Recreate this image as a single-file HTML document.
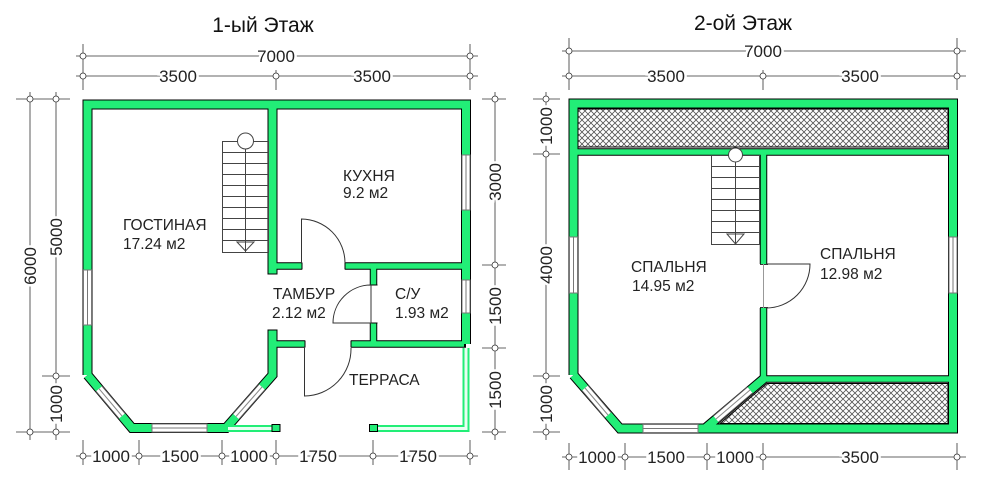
<!DOCTYPE html>
<html><head><meta charset="utf-8"><style>
html,body{margin:0;padding:0;background:#fff;}
svg{display:block;font-family:"Liberation Sans",Arial,sans-serif;}
</style></head><body>
<svg width="1000" height="488" viewBox="0 0 1000 488" xmlns="http://www.w3.org/2000/svg">
<defs>
<pattern id="hx" width="6" height="6" patternUnits="userSpaceOnUse">
<rect width="6" height="6" fill="#fff"/>
<path d="M0 0L6 6M6 0L0 6" stroke="#555" stroke-width="0.8"/>
</pattern>
</defs>
<g fill="#111" font-size="21" text-anchor="middle">
<text x="263" y="32">1-ый Этаж</text>
<text x="743" y="30">2-ой Этаж</text>
</g>

<!-- ===== FLOOR 1 WALLS ===== -->
<g fill="none" stroke-linejoin="miter">
<path d="M87.5 375 L87.5 104.5 L466 104.5 L466 344 M272.5 104.5 L272.5 375 L226 428 L132 428 L87.5 375" stroke="#000" stroke-width="10"/>
<path d="M272.5 266 L466 266 M272.5 344 L466 344 M373.5 266 L373.5 344" stroke="#000" stroke-width="7.5"/>
<path d="M87.5 375 L87.5 104.5 L466 104.5 L466 344 M272.5 104.5 L272.5 375 L226 428 L132 428 L87.5 375" stroke="#22ee77" stroke-width="8"/>
<path d="M274 266 L464 266 M274 344 L464 344 M373.5 268 L373.5 342" stroke="#22ee77" stroke-width="5.5"/>
</g>
<!-- openings floor1 -->
<g fill="#fff" stroke="none">
<rect x="267" y="274" width="11" height="56"/>
<rect x="302" y="261" width="43" height="10"/>
<rect x="305" y="339" width="46" height="10"/>
<rect x="369" y="285" width="10" height="38"/>
</g>
<g stroke="#000" stroke-width="1" fill="none">
<path d="M267.5 274 H277.5 M267.5 330 H277.5"/>
<path d="M302 262.5 V269.5 M345 262.5 V269.5 M305 340.5 V347.5 M351 340.5 V347.5 M369.5 285 H377.5 M369.5 323 H377.5"/>
</g>
<!-- windows floor1 -->
<g stroke="#777" stroke-width="1" fill="#fff">
<rect x="83.5" y="270" width="8" height="55"/>
<line x1="87.5" y1="270" x2="87.5" y2="325"/>
<rect x="462" y="155" width="8" height="55"/>
<line x1="466" y1="155" x2="466" y2="210"/>
<rect x="462" y="280" width="8" height="33"/>
<line x1="466" y1="280" x2="466" y2="313"/>
<rect x="152" y="424" width="55" height="8"/>
<line x1="152" y1="428" x2="207" y2="428"/>
</g>
<g fill="none">
<line x1="99" y1="388.7" x2="122" y2="416" stroke="#555" stroke-width="9"/>
<line x1="99" y1="388.7" x2="122" y2="416" stroke="#fff" stroke-width="7"/>
<line x1="99" y1="388.7" x2="122" y2="416" stroke="#888" stroke-width="1"/>
<line x1="236" y1="416.5" x2="262" y2="387" stroke="#555" stroke-width="9"/>
<line x1="236" y1="416.5" x2="262" y2="387" stroke="#fff" stroke-width="7"/>
<line x1="236" y1="416.5" x2="262" y2="387" stroke="#888" stroke-width="1"/>
</g>
<!-- terrace rails -->
<g fill="none">
<path d="M228 428.5 H272 M378 428.5 H466 V348" stroke="#22ee77" stroke-width="7"/>
<path d="M228 428.5 H272 M378 428.5 H466 V348" stroke="#e8fff2" stroke-width="3"/>
<rect x="272" y="424.5" width="8" height="7" fill="#22ee77" stroke="#000" stroke-width="1"/>
<rect x="369.5" y="424.5" width="8" height="7" fill="#22ee77" stroke="#000" stroke-width="1"/>
</g>
<!-- doors floor1 -->
<g stroke="#333" stroke-width="1" fill="none">
<path d="M301.5 263 V219 A44 44 0 0 1 345 263"/>
<path d="M371 285 V323 H333 A38 38 0 0 1 371 285"/>
<path d="M304.5 348 V396 A47 47 0 0 0 351 348"/>
</g>
<!-- stair floor1 -->
<g stroke="#444" stroke-width="1" fill="none">
<rect x="222.5" y="141.5" width="46" height="111"/>
<path d="M222.5 152.5H268.5M222.5 163.5H268.5M222.5 174.5H268.5M222.5 185.5H268.5M222.5 196.5H268.5M222.5 207.5H268.5M222.5 218.5H268.5M222.5 229.5H268.5M222.5 240.5H268.5"/>
<line x1="245.5" y1="141" x2="245.5" y2="252"/>
<circle cx="245.5" cy="141" r="8" fill="#fff"/>
<path d="M237 242 L245.5 251 L254 242 Z"/>
</g>

<!-- labels floor1 -->
<g fill="#222" font-size="15.5">
<text x="123" y="230">ГОСТИНАЯ</text>
<text x="123" y="249">17.24 м2</text>
<text x="343" y="181">КУХНЯ</text>
<text x="343" y="198">9.2 м2</text>
<text x="273" y="299">ТАМБУР</text>
<text x="272" y="318">2.12 м2</text>
<text x="395" y="299">С/У</text>
<text x="395" y="318">1.93 м2</text>
<text x="349" y="385">ТЕРРАСА</text>
</g>

<!-- ===== FLOOR 2 ===== -->
<rect x="578" y="109" width="370" height="38" fill="url(#hx)" stroke="#000" stroke-width="1"/>
<path d="M767 383.5 H948 V423.5 H720 Z" fill="url(#hx)" stroke="#000" stroke-width="1"/>
<g fill="none">
<path d="M573.5 375 L573.5 103.5 L953 103.5 L953 428.5 L705 428.5 L620 428.5 L573.5 375 M705 428.5 L763.5 379" stroke="#000" stroke-width="10"/>
<path d="M573.5 152 L953 152 M763.5 152 L763.5 379 L953 379" stroke="#000" stroke-width="7.5"/>
<path d="M573.5 375 L573.5 103.5 L953 103.5 L953 428.5 L705 428.5 L620 428.5 L573.5 375 M705 428.5 L763.5 379" stroke="#22ee77" stroke-width="8"/>
<path d="M575 152 L951 152 M763.5 154 L763.5 379 L951 379" stroke="#22ee77" stroke-width="5.5"/>
</g>
<!-- door floor2 -->
<rect x="759" y="264" width="10" height="44" fill="#fff"/>
<g stroke="#333" stroke-width="1" fill="none">
<path d="M760 264.5H768M760 307.5H768"/>
<path d="M766 264 H810 A44 44 0 0 1 766 308"/>
<line x1="763.5" y1="264" x2="763.5" y2="308" stroke="#999"/>
</g>
<!-- windows floor2 -->
<g stroke="#777" stroke-width="1" fill="#fff">
<rect x="569.5" y="237" width="8" height="56"/>
<line x1="573.5" y1="237" x2="573.5" y2="293"/>
<rect x="949" y="237" width="8" height="56"/>
<line x1="953" y1="237" x2="953" y2="293"/>
<rect x="643" y="424.5" width="55" height="8"/>
<line x1="643" y1="428.5" x2="698" y2="428.5"/>
</g>
<g fill="none">
<line x1="585" y1="388" x2="608" y2="415" stroke="#555" stroke-width="9"/>
<line x1="585" y1="388" x2="608" y2="415" stroke="#fff" stroke-width="7"/>
<line x1="585" y1="388" x2="608" y2="415" stroke="#888" stroke-width="1"/>
<line x1="716" y1="419" x2="750" y2="390" stroke="#555" stroke-width="9"/>
<line x1="716" y1="419" x2="750" y2="390" stroke="#fff" stroke-width="7"/>
<line x1="716" y1="419" x2="750" y2="390" stroke="#888" stroke-width="1"/>
</g>
<!-- stair floor2 -->
<g stroke="#444" stroke-width="1" fill="none">
<rect x="711.5" y="155.5" width="48" height="89" fill="#fff"/>
<path d="M711.5 166.5H759.5M711.5 177.5H759.5M711.5 188.5H759.5M711.5 199.5H759.5M711.5 210.5H759.5M711.5 221.5H759.5M711.5 232.5H759.5"/>
<line x1="735.5" y1="155" x2="735.5" y2="244"/>
<circle cx="735.5" cy="155" r="7" fill="#fff"/>
<path d="M727 234 L735.5 244 L744 234 Z"/>
</g>
<g fill="#222" font-size="15.5">
<text x="631" y="272">СПАЛЬНЯ</text>
<text x="632" y="291">14.95 м2</text>
<text x="820" y="259">СПАЛЬНЯ</text>
<text x="820" y="279">12.98 м2</text>
</g>

<!-- ===== DIMENSIONS ===== -->
<g stroke="#333" stroke-width="0.8" fill="none">
<path d="M76 56H478 M76 76H478 M83 44V90 M470 44V90 M276 70V90"/>
<path d="M76 456H478 M83 440V465 M139 440V465 M222 440V465 M276 440V465 M373 440V465 M470 440V465"/>
<path d="M30 92V440 M56 92V440 M16 99H70 M16 432H70 M42 376H70"/>
<path d="M495 92V440 M482 99H506 M482 265H506 M482 348H506 M482 432H506"/>
<path d="M562 51H966 M562 76H966 M569 38V90 M957 38V90 M763 70V90"/>
<path d="M562 457H966 M569 443V470 M625 443V470 M707 443V470 M763 443V470 M957 443V470"/>
<path d="M546 92V440 M533 99H560 M533 154H560 M533 376H560 M533 432H560"/>
</g>
<g stroke="#333" stroke-width="0.8" fill="#fff">
<circle cx="83" cy="56" r="3"/><circle cx="470" cy="56" r="3"/>
<circle cx="83" cy="76" r="3"/><circle cx="276" cy="76" r="3"/><circle cx="470" cy="76" r="3"/>
<circle cx="83" cy="456" r="3"/><circle cx="139" cy="456" r="3"/><circle cx="222" cy="456" r="3"/><circle cx="276" cy="456" r="3"/><circle cx="373" cy="456" r="3"/><circle cx="470" cy="456" r="3"/>
<circle cx="30" cy="99" r="3"/><circle cx="56" cy="99" r="3"/><circle cx="30" cy="432" r="3"/><circle cx="56" cy="432" r="3"/><circle cx="56" cy="376" r="3"/>
<circle cx="495" cy="99" r="3"/><circle cx="495" cy="265" r="3"/><circle cx="495" cy="348" r="3"/><circle cx="495" cy="432" r="3"/>
<circle cx="569" cy="51" r="3"/><circle cx="957" cy="51" r="3"/>
<circle cx="569" cy="76" r="3"/><circle cx="763" cy="76" r="3"/><circle cx="957" cy="76" r="3"/>
<circle cx="569" cy="457" r="3"/><circle cx="625" cy="457" r="3"/><circle cx="707" cy="457" r="3"/><circle cx="763" cy="457" r="3"/><circle cx="957" cy="457" r="3"/>
<circle cx="546" cy="99" r="3"/><circle cx="546" cy="154" r="3"/><circle cx="546" cy="376" r="3"/><circle cx="546" cy="432" r="3"/>
</g>
<g fill="#222" font-size="17" text-anchor="middle">
<g style="paint-order:stroke" stroke="#fff" stroke-width="5">
<text x="276" y="62">7000</text>
<text x="178" y="82">3500</text><text x="372" y="82">3500</text>
<text x="111" y="462">1000</text><text x="180" y="462">1500</text><text x="249" y="462">1000</text>
<text x="318" y="462">1750</text><text x="418" y="462">1750</text>
<text x="763" y="57">7000</text>
<text x="666" y="82">3500</text><text x="860" y="82">3500</text>
<text x="597" y="463">1000</text><text x="666" y="463">1500</text><text x="735" y="463">1000</text>
<text x="860" y="463">3500</text>
<text transform="translate(36 266) rotate(-90)">6000</text>
<text transform="translate(62 237) rotate(-90)">5000</text>
<text transform="translate(62 404) rotate(-90)">1000</text>
<text transform="translate(501 182) rotate(-90)">3000</text>
<text transform="translate(501 306) rotate(-90)">1500</text>
<text transform="translate(501 390) rotate(-90)">1500</text>
<text transform="translate(552 126) rotate(-90)">1000</text>
<text transform="translate(552 265) rotate(-90)">4000</text>
<text transform="translate(552 404) rotate(-90)">1000</text>
</g>
</g>
</svg>
</body></html>
